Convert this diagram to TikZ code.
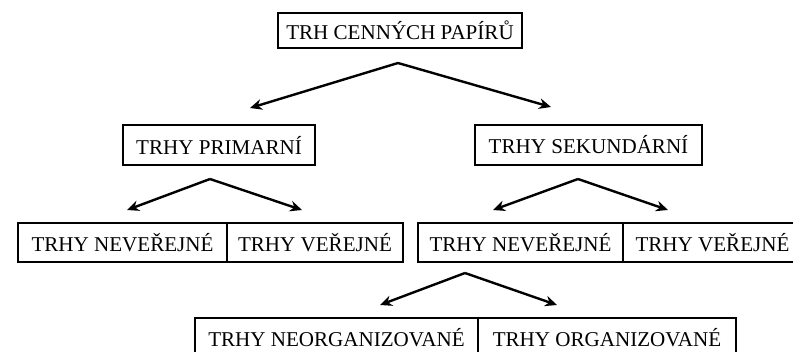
\documentclass[tikz,border=0pt]{standalone}
\usepackage{fontspec}
\setmainfont{Liberation Serif}
\usetikzlibrary{arrows.meta}
\begin{document}
\begin{tikzpicture}[x=0.75pt,y=-0.75pt,
  box/.style={draw, line width=1.8pt, inner sep=0pt, align=center,
    font=\fontsize{15.8}{18}\selectfont},
  conn/.style={line width=1.8pt, -{Stealth[length=9pt,width=8pt]}}]
\clip (0,0) rectangle (793,351);
% nodes
\node[box, minimum width=244*0.75pt, minimum height=35*0.75pt] (top) at (400,30.5) {TRH CENNÝCH PAPÍRŮ};
\node[box, minimum width=192*0.75pt, minimum height=40*0.75pt] (prim) at (219,145) {TRHY PRIMARNÍ};
\node[box, minimum width=227*0.75pt, minimum height=40*0.75pt] (sek) at (588.5,145) {TRHY SEKUNDÁRNÍ};
\node[box, minimum width=209*0.75pt, minimum height=39*0.75pt] (nev1) at (122.5,242.5) {TRHY NEVEŘEJNÉ};
\node[box, minimum width=176*0.75pt, minimum height=39*0.75pt] (ver1) at (315,242.5) {TRHY VEŘEJNÉ};
\node[box, minimum width=205*0.75pt, minimum height=39*0.75pt] (nev2) at (520.5,242.5) {TRHY NEVEŘEJNÉ};
\node[box, minimum width=179*0.75pt, minimum height=39*0.75pt] (ver2) at (712.5,242.5) {TRHY VEŘEJNÉ};
\node[box, minimum width=283*0.75pt, minimum height=39*0.75pt] (neo) at (336.5,337.5) {TRHY NEORGANIZOVANÉ};
\node[box, minimum width=258*0.75pt, minimum height=39*0.75pt] (org) at (607,337.5) {TRHY ORGANIZOVANÉ};
% connector points
\coordinate (a0) at (398,63);
\coordinate (t0l) at (250,108);
\coordinate (t0r) at (551,107);
\coordinate (a1) at (210,179);
\coordinate (t1l) at (127,210);
\coordinate (t1r) at (302,210);
\coordinate (a2) at (578,179);
\coordinate (t2l) at (493,210);
\coordinate (t2r) at (668,210);
\coordinate (a3) at (465,273);
\coordinate (t3l) at (380,305);
\coordinate (t3r) at (557,305);
% connectors
\draw[conn] (a0) -- (t0l);
\draw[conn] (a0) -- (t0r);
\draw[conn] (a1) -- (t1l);
\draw[conn] (a1) -- (t1r);
\draw[conn] (a2) -- (t2l);
\draw[conn] (a2) -- (t2r);
\draw[conn] (a3) -- (t3l);
\draw[conn] (a3) -- (t3r);
\end{tikzpicture}
\end{document}
